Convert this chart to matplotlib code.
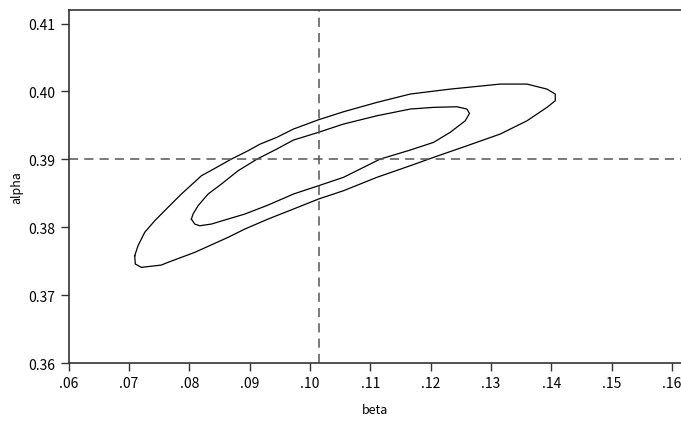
import matplotlib
matplotlib.use('Agg')
import matplotlib.pyplot as plt
from matplotlib.ticker import FuncFormatter

plt.rcParams['font.family'] = ['Noto Sans CJK JP', 'DejaVu Sans']

# outer contour (beta, alpha)
outer_beta = [0.07096, 0.07106, 0.07206, 0.07537, 0.07648, 0.08091, 0.08643, 0.08920,
              0.09307, 0.09726, 0.10141, 0.10556, 0.11109, 0.11662, 0.12048, 0.12602,
              0.13154, 0.13597, 0.13929, 0.14066, 0.14066, 0.13929, 0.13597, 0.13154,
              0.12325, 0.11662, 0.11109, 0.10556, 0.10141, 0.09726, 0.09451, 0.09174,
              0.08975, 0.08698, 0.08423, 0.08201, 0.07869, 0.07648, 0.07428, 0.07262,
              0.07151, 0.07096]
outer_alpha = [0.37580, 0.37458, 0.37409, 0.37443, 0.37483, 0.37630, 0.37851, 0.37973,
               0.38121, 0.38268, 0.38415, 0.38538, 0.38735, 0.38906, 0.39029, 0.39200,
               0.39373, 0.39568, 0.39766, 0.39863, 0.39962, 0.40035, 0.40109, 0.40109,
               0.40035, 0.39962, 0.39839, 0.39701, 0.39583, 0.39446, 0.39324, 0.39225,
               0.39127, 0.39004, 0.38867, 0.38758, 0.38489, 0.38293, 0.38096, 0.37925,
               0.37728, 0.37580]

# inner contour
inner_beta = [0.08035, 0.08091, 0.08174, 0.08367, 0.08643, 0.08920, 0.09307, 0.09726,
              0.10141, 0.10556, 0.11164, 0.11662, 0.12048, 0.12325, 0.12574, 0.12645,
              0.12602, 0.12436, 0.12048, 0.11662, 0.11109, 0.10556, 0.10141, 0.09726,
              0.09451, 0.09124, 0.08809, 0.08532, 0.08312, 0.08146, 0.08063, 0.08035]
inner_alpha = [0.38121, 0.38047, 0.38022, 0.38047, 0.38121, 0.38194, 0.38327, 0.38489,
               0.38611, 0.38735, 0.39004, 0.39137, 0.39250, 0.39398, 0.39568, 0.39677,
               0.39741, 0.39775, 0.39766, 0.39741, 0.39642, 0.39520, 0.39398, 0.39284,
               0.39152, 0.39004, 0.38832, 0.38636, 0.38489, 0.38317, 0.38194, 0.38121]

# reference lines
beta_ref = 0.1015
alpha_ref = 0.39

x_ticks = [0.06, 0.07, 0.08, 0.09, 0.10, 0.11, 0.12, 0.13, 0.14, 0.15, 0.16]
y_ticks = [0.36, 0.37, 0.38, 0.39, 0.40, 0.41]

fig = plt.figure(figsize=(6.81, 4.27), dpi=100)
ax = fig.add_axes([0.1007, 0.1475, 0.8993, 0.8267])

ax.plot(outer_beta, outer_alpha, color='black', lw=0.9)
ax.plot(inner_beta, inner_alpha, color='black', lw=0.9)
ax.axvline(beta_ref, color='#555555', lw=1.1, dashes=(6, 4))
ax.axhline(alpha_ref, color='#555555', lw=1.1, dashes=(6, 4))

ax.set_xlim(0.06, 0.1615)
ax.set_ylim(0.36, 0.412)
ax.set_xticks(x_ticks)
ax.set_yticks(y_ticks)
ax.xaxis.set_major_formatter(FuncFormatter(lambda v, p: f"{v:.2f}"[1:]))
ax.yaxis.set_major_formatter(FuncFormatter(lambda v, p: f"{v:.2f}"))
ax.tick_params(direction='out', length=6, width=1, colors='#333333', labelcolor='black', labelsize=10)

ax.spines['right'].set_visible(False)
for s in ['left', 'bottom', 'top']:
    ax.spines[s].set_color('#333333')
    ax.spines[s].set_linewidth(1.2)

ax.set_xlabel('beta', fontsize=9, labelpad=9)
ax.set_ylabel('alpha', fontsize=9, labelpad=4)

plt.savefig('out.png', dpi=100)
